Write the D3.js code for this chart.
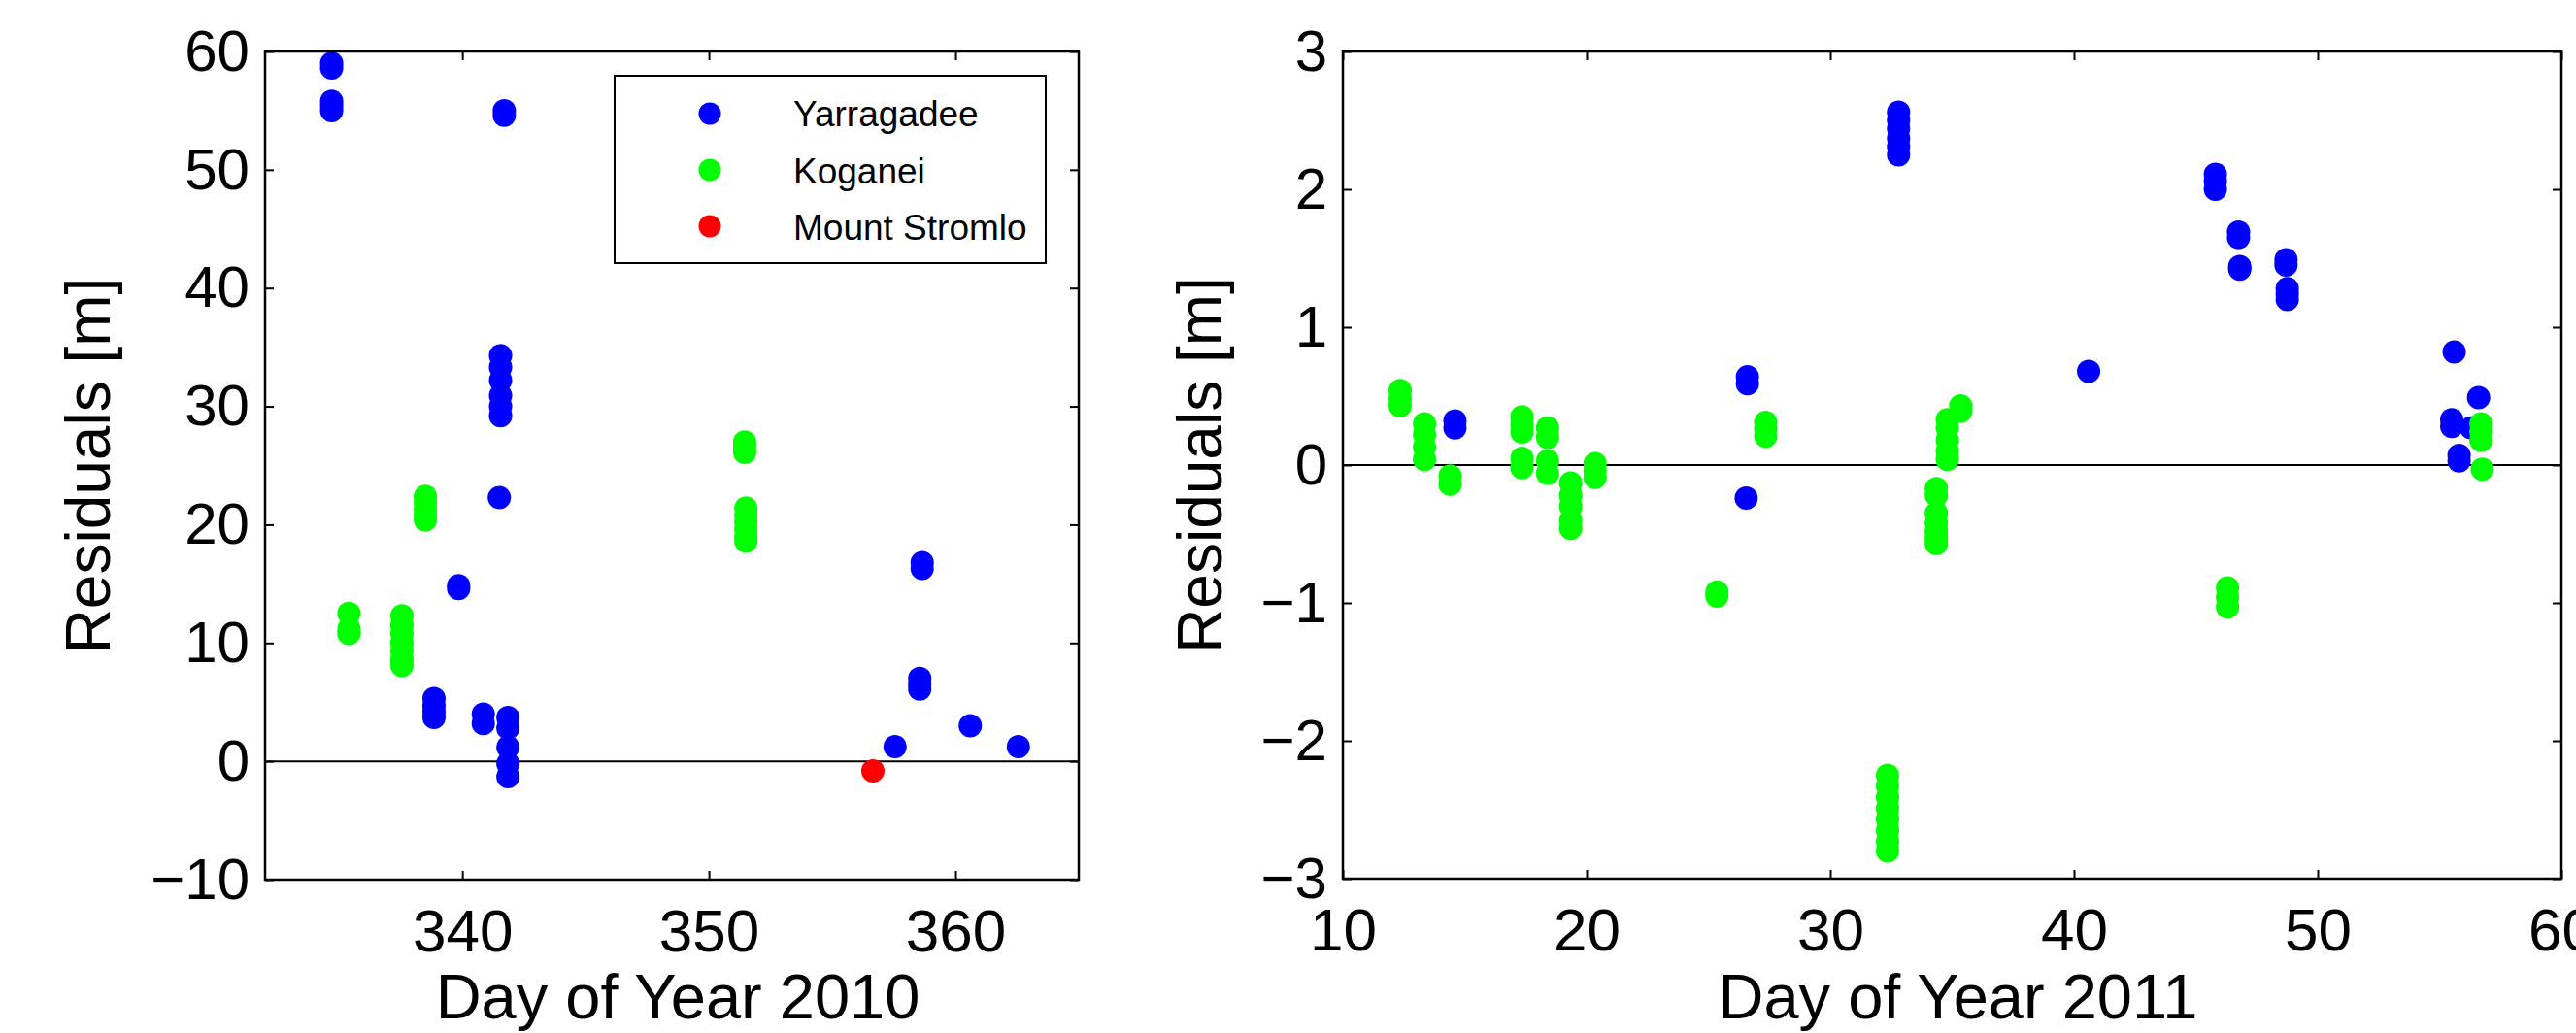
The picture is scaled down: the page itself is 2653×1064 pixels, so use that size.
<!DOCTYPE html>
<html>
<head>
<meta charset="utf-8">
<script src="https://cdn.jsdelivr.net/npm/d3@7"></script>
<style>
  body { margin: 0; background: #fff; }
  text { font-family: "Liberation Sans", Arial, sans-serif; fill: #000; }
</style>
</head>
<body>
<svg id="chart"></svg>
<script>
// residuals, [day of year, metres]
const yarragadee2010 = [
  [334.7,59.0],[334.7,58.6],[334.7,55.8],[334.7,55.4],[334.7,55.0],
  [341.7,55.0],[341.7,54.6],
  [341.55,34.3],[341.55,33.3],[341.55,32.2],[341.55,30.9],[341.55,30.0],[341.55,29.2],
  [341.5,22.3],
  [339.85,14.85],[339.85,14.6],
  [338.85,5.3],[338.85,4.7],[338.85,4.2],[338.85,3.7],
  [340.85,4.0],[340.85,3.2],
  [341.85,3.7],[341.85,2.8],[341.85,1.2],[341.85,-0.2],[341.85,-1.3],
  [357.55,1.24],
  [358.65,16.8],[358.65,16.3],
  [358.55,7.0],[358.55,6.5],[358.55,6.1],
  [360.6,3.0],
  [362.55,1.25]
];
const koganei2010 = [
  [335.4,12.5],[335.4,11.2],[335.4,10.8],
  [337.55,12.3],[337.55,11.5],[337.55,10.8],[337.55,10.0],[337.55,9.3],[337.55,8.6],[337.55,8.1],
  [338.5,22.4],[338.5,21.9],[338.5,21.3],[338.5,20.8],[338.5,20.4],
  [351.45,27.0],[351.45,26.6],[351.45,26.1],
  [351.5,21.4],[351.5,20.8],[351.5,20.2],[351.5,19.6],[351.5,19.0],[351.5,18.6]
];
const stromlo2010 = [[356.65,-0.8]];

const yarragadee2011 = [
  [14.6,0.32],[14.6,0.27],
  [26.6,0.64],[26.6,0.59],
  [26.55,-0.24],
  [32.8,2.56],[32.8,2.50],[32.8,2.44],[32.8,2.37],[32.8,2.31],[32.8,2.25],
  [40.6,0.68],
  [45.8,2.11],[45.8,2.06],[45.8,2.00],
  [46.75,1.69],[46.75,1.65],
  [46.8,1.44],[46.8,1.42],
  [48.7,1.49],[48.7,1.45],[48.75,1.28],[48.75,1.24],[48.75,1.20],
  [55.6,0.82],
  [55.5,0.33],[55.5,0.28],
  [55.8,0.07],[55.8,0.03],
  [56.6,0.49],
  [56.3,0.27]
];
const koganei2011 = [
  [12.35,0.54],[12.35,0.48],[12.35,0.43],
  [13.35,0.30],[13.35,0.22],[13.35,0.13],[13.35,0.04],
  [14.4,-0.08],[14.4,-0.14],
  [17.35,0.35],[17.35,0.29],[17.35,0.24],[17.35,0.05],[17.35,-0.02],
  [18.4,0.27],[18.4,0.20],[18.4,0.03],[18.4,-0.06],
  [19.35,-0.13],[19.35,-0.22],[19.35,-0.30],[19.35,-0.40],[19.35,-0.46],
  [20.35,0.01],[20.35,-0.04],[20.35,-0.09],
  [25.35,-0.92],[25.35,-0.95],
  [27.35,0.31],[27.35,0.26],[27.35,0.21],
  [32.35,-2.25],[32.35,-2.33],[32.35,-2.41],[32.35,-2.49],[32.35,-2.57],[32.35,-2.65],[32.35,-2.73],[32.35,-2.80],
  [34.35,-0.17],[34.35,-0.22],[34.35,-0.35],[34.35,-0.42],[34.35,-0.48],[34.35,-0.53],[34.35,-0.57],
  [34.8,0.33],[34.8,0.27],[34.8,0.18],[34.8,0.10],[34.8,0.04],
  [35.35,0.43],[35.35,0.39],
  [46.3,-0.89],[46.3,-0.96],[46.3,-1.03],
  [56.7,0.30],[56.7,0.24],[56.7,0.18],
  [56.75,-0.03]
];

const stationNames = ["Yarragadee", "Koganei", "Mount Stromlo"];
const stationColors = ["#0000ff", "#00ff00", "#ff0000"];

const xTicks2010 = [340, 350, 360];
const yTicks2010 = [-10, 0, 10, 20, 30, 40, 50, 60];
const xTicks2011 = [10, 20, 30, 40, 50, 60];
const yTicks2011 = [-3, -2, -1, 0, 1, 2, 3];

const width = 2653, height = 1064;
const svg = d3.select("#chart").attr("width", width).attr("height", height);
svg.append("rect").attr("width", width).attr("height", height).attr("fill", "#fff");

const minus = d => (d < 0 ? "\u2212" + Math.abs(d) : "" + d);

function panel(opts) {
  const x = d3.scaleLinear().domain(opts.xDomain).range([opts.left, opts.right]);
  const y = d3.scaleLinear().domain(opts.yDomain).range([opts.bottom, opts.top]);
  const g = svg.append("g");

  // zero line
  g.append("line")
    .attr("x1", opts.left).attr("x2", opts.right)
    .attr("y1", y(0)).attr("y2", y(0))
    .attr("stroke", "#000").attr("stroke-width", 2);

  const xb = g.append("g").attr("transform", `translate(0,${opts.bottom})`)
    .call(d3.axisBottom(x).tickValues(opts.xTicks).tickSizeInner(-9).tickSizeOuter(0).tickPadding(30).tickFormat(minus));
  const xt = g.append("g").attr("transform", `translate(0,${opts.top})`)
    .call(d3.axisTop(x).tickValues(opts.xTicks).tickSizeInner(-9).tickSizeOuter(0).tickFormat(""));
  const yl = g.append("g").attr("transform", `translate(${opts.left},0)`)
    .call(d3.axisLeft(y).tickValues(opts.yTicks).tickSizeInner(-9).tickSizeOuter(0).tickPadding(16).tickFormat(minus));
  const yr = g.append("g").attr("transform", `translate(${opts.right},0)`)
    .call(d3.axisRight(y).tickValues(opts.yTicks).tickSizeInner(-9).tickSizeOuter(0).tickFormat(""));
  [xb, xt, yl, yr].forEach(a => {
    a.select(".domain").remove();
    a.selectAll(".tick line").attr("stroke", "#000").attr("stroke-width", 2);
  });
  xb.selectAll("text").style("font-size", "62px").attr("fill", "#000");
  yl.selectAll("text").style("font-size", "60px").attr("fill", "#000");

  opts.series.forEach((s, i) => {
    g.append("g").selectAll("circle")
      .data(s)
      .enter()
      .append("circle")
      .attr("cx", d => x(d[0]))
      .attr("cy", d => y(d[1]))
      .attr("r", 12)
      .attr("fill", stationColors[i]);
  });

  g.append("rect")
    .attr("x", opts.left).attr("y", opts.top)
    .attr("width", opts.right - opts.left).attr("height", opts.bottom - opts.top)
    .attr("fill", "none").attr("stroke", "#000").attr("stroke-width", 2.5);

  g.append("text")
    .text(opts.xLabel)
    .attr("x", (opts.left + opts.right) / 2 + 6)
    .attr("y", 1049)
    .attr("text-anchor", "middle")
    .style("font-size", "65px");
  g.append("text")
    .text("Residuals [m]")
    .attr("transform", `translate(${opts.yLabelX},${(opts.top + opts.bottom) / 2}) rotate(-90)`)
    .attr("text-anchor", "middle")
    .style("font-size", "64px");
  return g;
}

const left = panel({
  xDomain: [332, 365], yDomain: [-10, 60],
  left: 273, right: 1111, top: 53, bottom: 906,
  xTicks: xTicks2010, yTicks: yTicks2010,
  series: [yarragadee2010, koganei2010, stromlo2010],
  xLabel: "Day of Year 2010", yLabelX: 113
});

panel({
  xDomain: [10, 60], yDomain: [-3, 3],
  left: 1383, right: 2638, top: 53, bottom: 905,
  xTicks: xTicks2011, yTicks: yTicks2011,
  series: [yarragadee2011, koganei2011],
  xLabel: "Day of Year 2011", yLabelX: 1258
});

// legend
const legend = left.append("g");
legend.append("rect")
  .attr("x", 633).attr("y", 78).attr("width", 444).attr("height", 193)
  .attr("fill", "#fff").attr("stroke", "#000").attr("stroke-width", 2);
stationNames.forEach((name, i) => {
  legend.append("circle")
    .attr("cx", 731).attr("cy", 117 + i * 58).attr("r", 11.5)
    .attr("fill", stationColors[i]);
  legend.append("text")
    .text(name)
    .attr("x", 817).attr("y", 130 + i * 58.5)
    .style("font-size", "37px");
});
</script>
</body>
</html>
